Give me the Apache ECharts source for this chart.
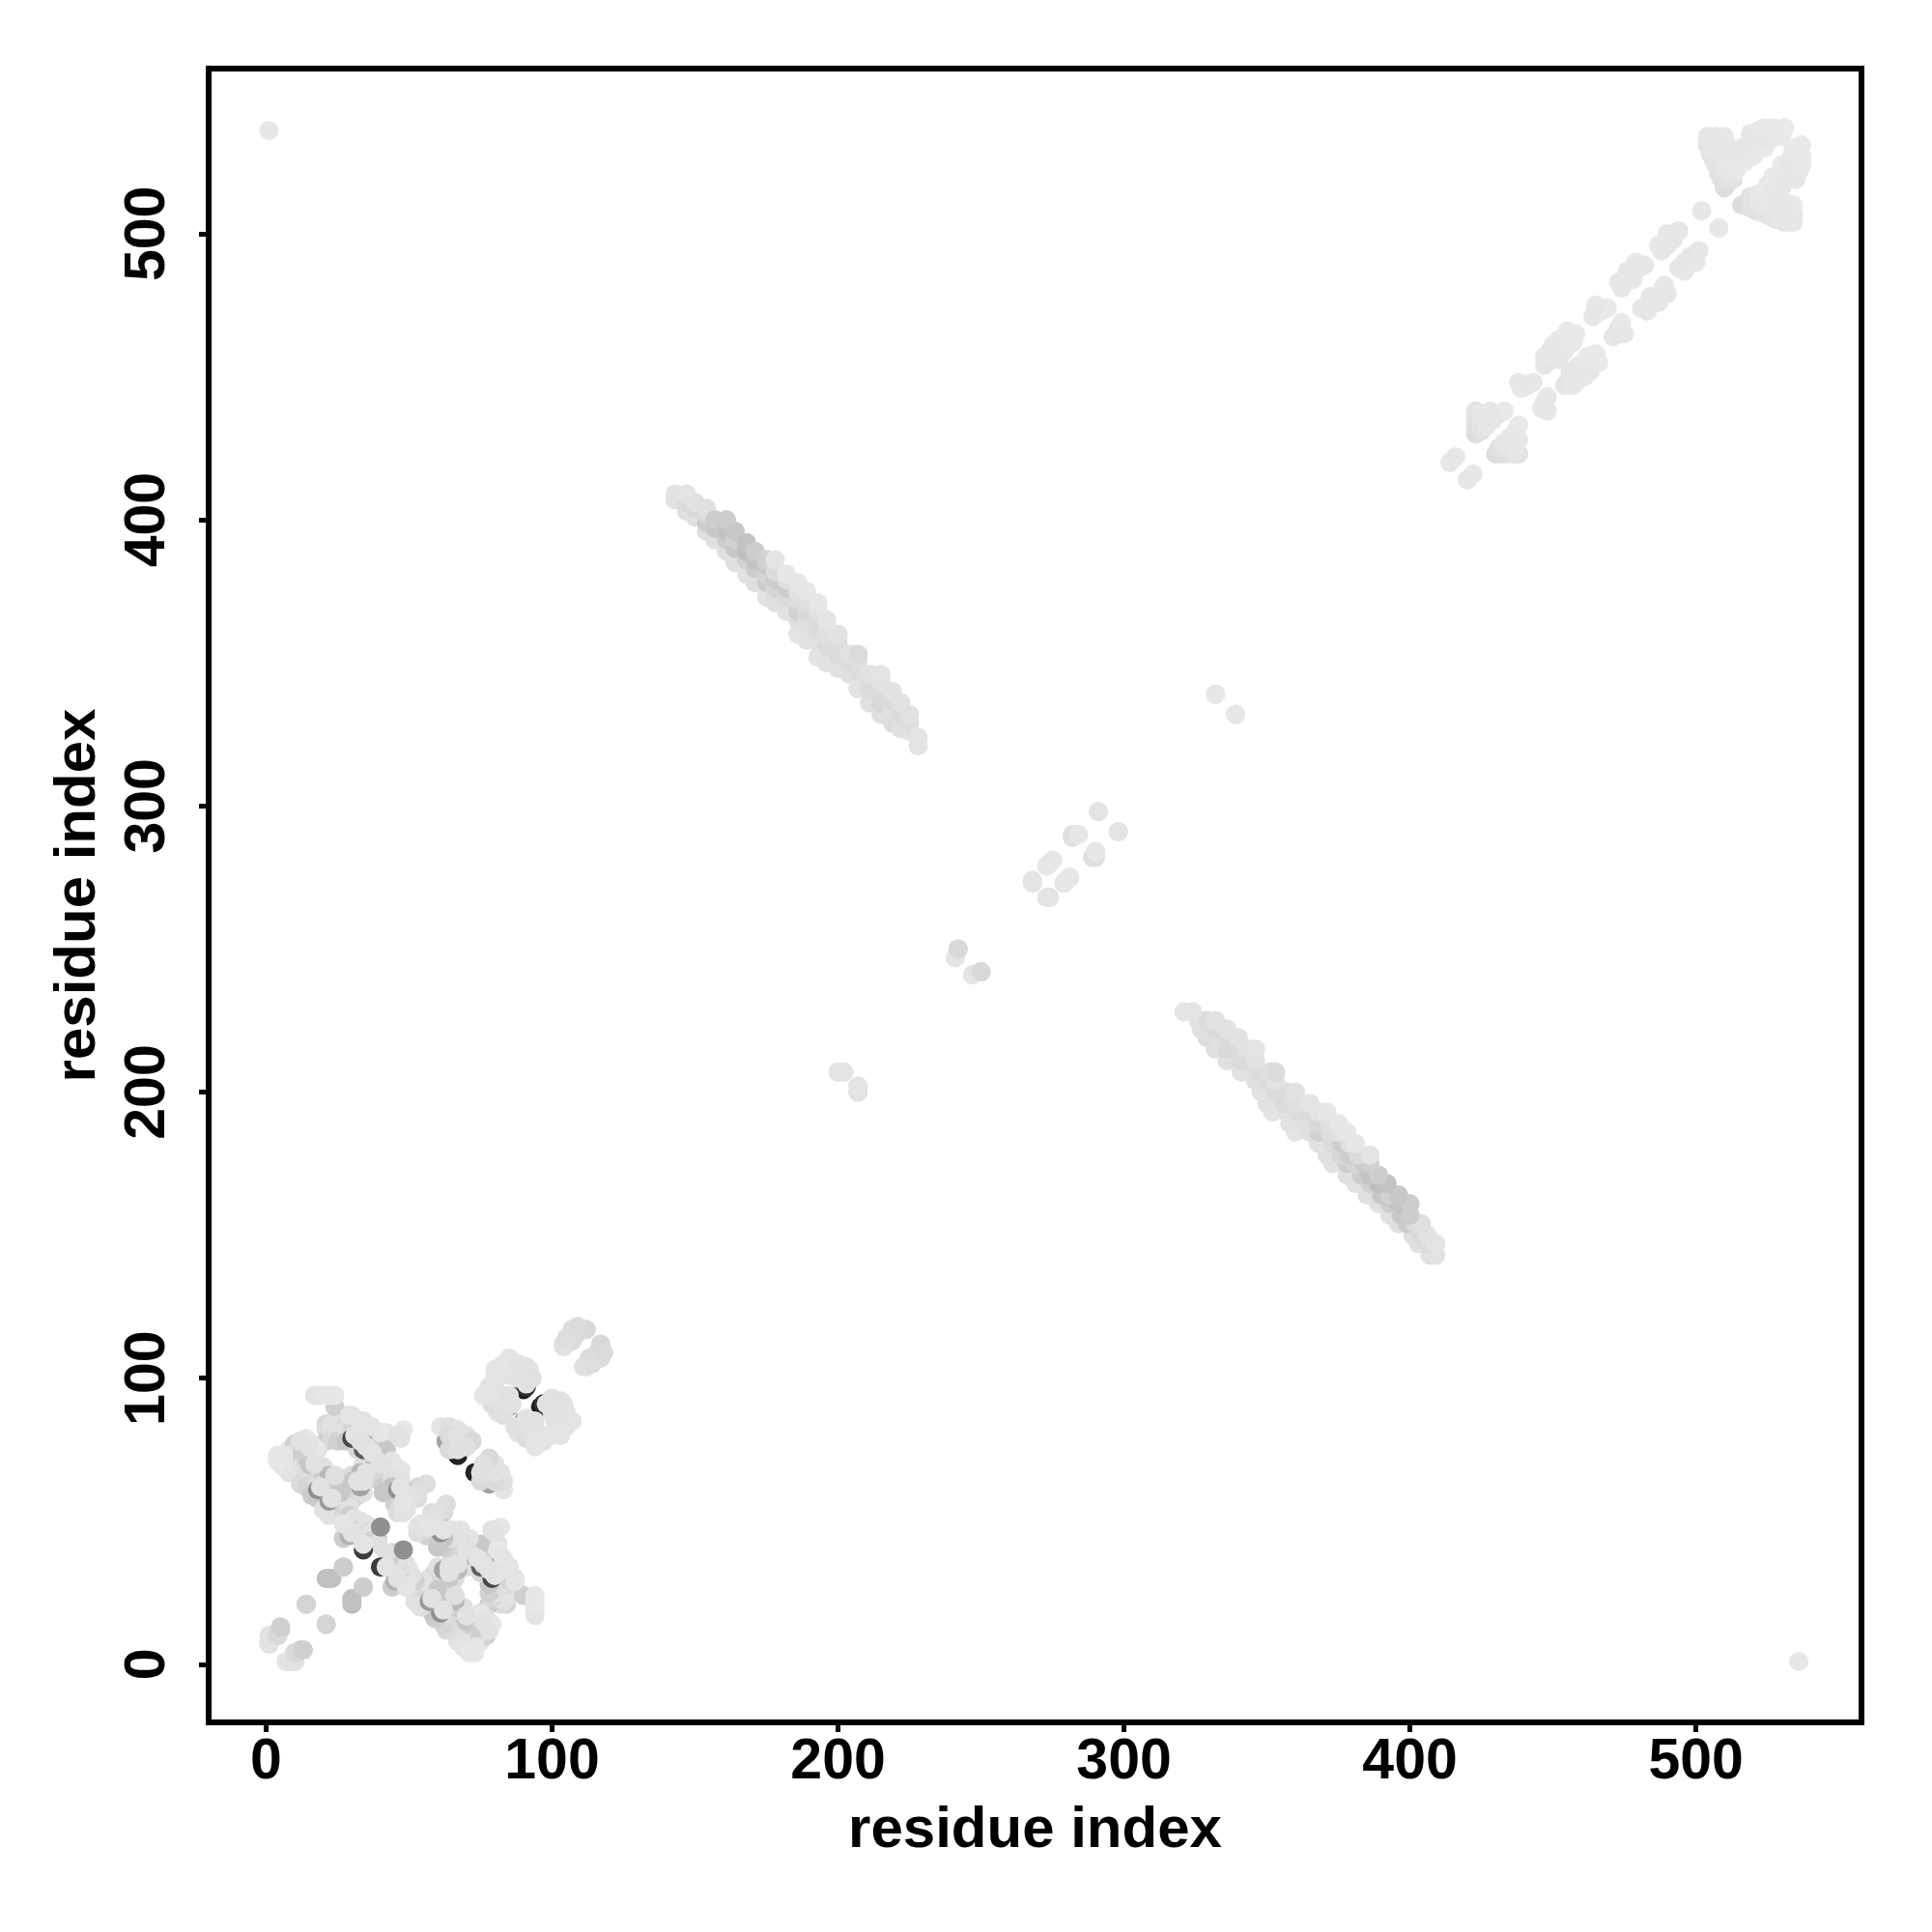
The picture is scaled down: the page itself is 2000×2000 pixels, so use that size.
<!DOCTYPE html>
<html><head><meta charset="utf-8">
<style>html,body{margin:0;padding:0;background:#fff}#c{width:2000px;height:2000px}</style>
<script src="https://cdn.jsdelivr.net/npm/echarts@6/dist/echarts.min.js"></script>
</head><body><div id="c"></div>
<script>
const tickValues = [0, 100, 200, 300, 400, 500];
const axisName = 'residue index';

// Contact pairs (residue i, residue j); the map shows each pair at (i,j) and (j,i).
// Score: 0 light .. 100 dark. Listed in draw order.
const lightI = [21,21,21,23,23,23,25,25,25,28,28,28,28,30,30,32,32,32,32,32,34,34,34,34,36,36,36,38,38,38,40,40,40,42,42,42,
  8,8,8,10,10,10,10,12,12,12,12,14,14,14,14,16,16,16,18,18,18,18,20,20,20,20,22,22,22,24,24,24,24,
  26,26,26,28,28,28,30,30,30,32,32,34,34,34,
  38,41,44,38,41,44,47,38,41,44,47,41,44,47,50,53,44,47,50,53,45,47,49,46,48,
  27,27,27,27,29,29,29,31,31,33,33,33,35,35,37,37,39,39];
const lightJ = [84,82,78,84,81,79,84,80,78,87,84,82,78,87,84,85,83,80,78,75,85,81,78,75,83,80,76,81,78,73,81,78,72,81,78,75,
  75,72,67,77,74,71,68,78,72,69,63,76,71,68,62,77,71,59,75,67,64,58,69,66,63,54,64,61,52,66,63,60,54,
  65,62,59,64,61,58,66,60,57,65,59,70,64,60,
  72,68,71,68,65,68,68,65,62,65,65,60,62,59,60,62,59,57,57,58,56,55,54,53,53,
  56,53,50,44,55,52,48,51,47,50,47,44,49,46,46,43,44,42];
const lightS = [10,7,14,5,5,9,5,5,12,5,8,6,16,5,10,6,12,7,18,9,6,14,7,18,12,7,14,5,10,8,4,12,8,5,9,16,
  5,9,5,12,6,10,5,6,14,5,8,5,12,7,10,5,10,14,5,12,7,16,6,14,7,5,16,6,5,10,7,16,5,
  5,14,6,12,6,8,7,16,5,6,10,6,12,6,
  4,8,4,6,12,6,4,10,14,6,5,12,18,6,5,9,14,10,6,7,12,6,5,7,5,
  5,10,6,14,5,12,7,5,16,5,12,10,5,8,5,14,12,6];

const grayI = [36,33,22,15,13,30,33,38,63,85,24,48,26,41];
const grayJ = [82,67,66,70,75,64,62,70,78,90,90,61,60,60];
const grayS = [26,22,22,17,13,16,32,20,32,38,13,20,16,16];

const darkI = [30,34,18,22,46,34,67,90,91,29];
const darkJ = [79,75,61,57,61,40,73,96,97,45];
const darkS = [70,60,40,35,40,75,85,88,80,25];

const paleI = [17,19,21,23,24,4,6,6,6,14,12,17,29,33,40,48,47,46,31,33,35,37,19,23,47,34,56,53,50,48,4,27,30,35,17,24,32,15,40,34,37];
const paleJ = [94,94,94,94,94,73,73,71,69,79,78,75,87,85,81,82,79,80,80,78,76,74,62,58,62,42,63,60,58,57,71,49,46,67,70,66,64,76,70,64,83];
const paleS = [4,4,3,3,3,3,3,4,4,3,5,3,4,4,3,3,5,5,4,5,5,4,5,5,4,4,7,6,5,4,3,4,5,5,5,6,5,5,5,5,4];

const startI = [1,1,1,4,5,8,10,10,13,14,21,22,23,27,34,30,30];
const startJ = [7,10,8,10,12,1,1,4,5,21,14,30,30,34,27,21,22];
const startS = [4,5,4,11,13,4,5,9,13,11,11,19,19,14,14,20,19];

const topI = [40];
const topJ = [48];
const topS = [40];

const helixI = [63,66,69,64,61,64,67,64,67,70,72,67,70, 79,81,83,79,82,85,82,85,86,88,85,80,78,76,78,80,80,83,85,88,91,92,93,91];
const helixJ = [78,78,78,75,83,83,82,80,80,80,78,75,76, 91,88,87,91,91,92,94,94,91,100,101,97,97,94,94,100,103,105,107,105,104,103,100,98];
const helixS = [32,10,6,8,4,6,5,8,5,5,9,6,6, 6,5,6,7,6,5,5,5,5,5,5,5,5,4,4,4,4,4,4,5,5,5,6,5];

const tailI = [104,105,106,107,108,109,110,111,112,107,104,105,107,109];
const tailJ = [111,112,113,115,115,116,117,117,117,113,112,114,117,118];
const tailS = [6,6,7,8,8,9,9,9,9,8,6,7,7,8];

const strandColI = [143,147,150,154,157,161,164,168,171,175,178,182,186,189,193,196,200,204,207,211,215,219,222,225,228];
const strandColJ = [[407,409],[403,406,409],[401,404,406],[396,399,402,404],[393,397,400],[389,393,396,400],[385,390,393,396],[381,386,389,392],[378,383,386,389],[373,378,381,384,386],[371,376,379,382,386],[368,373,376,379,381],[360,365,368,372,375,378],[358,364,368,372,375],[352,357,361,364,368,371],[350,356,360,365],[348,353,357,360],[346,350,353],[341,347,351,353],[336,341,344,346],[332,336,340,343,346],[329,334,337,340],[327,332,336],[326,329,332],[321,324]];
const strandColS = [[5,5],[6,8,4],[6,9,5],[6,14,8,6],[6,16,14],[6,14,18,14],[6,16,12,16],[5,12,20,18],[6,14,18,14],[5,14,10,16,12],[6,10,14,8,4],[5,8,14,6,3],[4,6,12,7,5,3],[5,6,9,6,3],[4,5,7,8,5,3],[5,8,6,4],[5,8,7,5],[6,8,5],[5,7,6,8],[6,8,8,5],[6,9,8,5,4],[7,6,8,5],[6,8,5],[5,7,5],[4,4]];

const midI = [200,202,207,207,241,242,247,250,268,274,273,274,275,279,280,281,282,283,284,290,290,291,298,332,339];
const midJ = [207,207,200,202,247,250,241,242,273,268,279,280,281,273,274,275,289,290,290,282,284,298,291,339,332];
const midS = [5,4,5,4,4,9,4,9,4,4,3,3,3,3,3,3,6,4,3,6,3,4,4,3,3];

const farI = [1];
const farJ = [536];
const farS = [3];

const capI = [414,416,423,423,423,423,423,425,425,425,427,427,429,431,433,428,438,439,441,443,447,448,450,451,453,455,458,454,457,452,449,447,450,452,455,464,465,467,469,465,474,476,478,480,482,478,475,473,476,479,488,490,492,493,494,487,490,502];
const capJ = [420,422,438,436,434,432,430,437,434,431,436,433,435,437,438,438,448,446,447,448,454,455,458,460,462,464,465,459,462,456,459,457,461,463,466,471,473,473,474,475,481,484,487,488,489,484,484,483,487,490,494,496,498,500,501,496,500,508];
const capS = [3,3,5,4,4,6,7,3,3,5,3,3,3,3,2,3,3,3,3,3,3,4,3,3,2,2,2,3,2,3,3,3,3,3,2,3,4,3,2,3,3,3,3,2,3,3,3,3,3,3,3,3,3,4,3,3,3,3];

const crownI = [510,509,508,507,506,505,504,513,514,511,512,510,508,504,507,510,504,508,511,506,517,515,518,520,519,521,525,522,524,527,531,520,524,529,526,516,522,530];
const crownJ = [516,519,521,524,526,528,531,519,522,522,526,527,529,534,534,534,533,533,531,530,525,527,530,527,535,534,535,536,537,537,537,531,530,534,533,530,533,534];
const crownS = [7,6,5,4,4,4,4,5,2,3,2,3,3,3,3,2,3,3,3,3,2,3,3,2,3,3,2,3,2,2,2,3,2,2,3,3,3,2];

const pairs = [];
const addGroup = (gi, gj, gs) => gi.forEach((v, k) => {
  pairs.push([v, gj[k], gs[k]]);
  pairs.push([gj[k], v, gs[k]]);
});
addGroup(lightI, lightJ, lightS);
addGroup(grayI, grayJ, grayS);
addGroup(darkI, darkJ, darkS);
addGroup(paleI, paleJ, paleS);
addGroup(startI, startJ, startS);
addGroup(topI, topJ, topS);
addGroup(helixI, helixJ, helixS);
addGroup(tailI, tailJ, tailS);
strandColI.forEach((c, k) => addGroup(strandColJ[k].map(() => c), strandColJ[k], strandColS[k]));
addGroup(midI, midJ, midS);
addGroup(farI, farJ, farS);
addGroup(capI, capJ, capS);
addGroup(crownI, crownJ, crownS);

const font = 'Liberation Sans';
const axisCommon = {
  type: 'value',
  name: axisName,
  nameLocation: 'middle',
  nameTextStyle: { fontFamily: font, fontWeight: 'bold', fontSize: 60, color: '#000' },
  axisLine: { show: false, onZero: false },
  splitLine: { show: false },
  axisTick: { show: true, length: 10, inside: false, customValues: tickValues, lineStyle: { color: '#000', width: 5 } }
};
const chart = echarts.init(document.getElementById('c'), null, { renderer: 'canvas' });
chart.setOption({
  animation: false,
  backgroundColor: '#fff',
  grid: { show: true, left: 216, top: 71, width: 1711, height: 1712, borderColor: '#000', borderWidth: 6, backgroundColor: '#fff' },
  xAxis: Object.assign({}, axisCommon, {
    min: -20.1, max: 557.9, nameGap: 82,
    axisLabel: { customValues: tickValues, margin: 12, fontFamily: font, fontWeight: 'bold', fontSize: 59, color: '#000' }
  }),
  yAxis: Object.assign({}, axisCommon, {
    min: -20.3, max: 557.7, nameGap: 105, nameRotate: 90,
    axisLabel: { customValues: tickValues, rotate: 90, margin: 33, fontFamily: font, fontWeight: 'bold', fontSize: 59, color: '#000' }
  }),
  visualMap: { show: false, type: 'continuous', dimension: 2, min: 0, max: 100, inRange: { color: ['#eeeeee', '#000000'] } },
  series: [{ type: 'scatter', symbol: 'circle', symbolSize: 20, data: pairs, itemStyle: { opacity: 1 }, large: false, progressive: 0 }]
});
</script></body></html>
